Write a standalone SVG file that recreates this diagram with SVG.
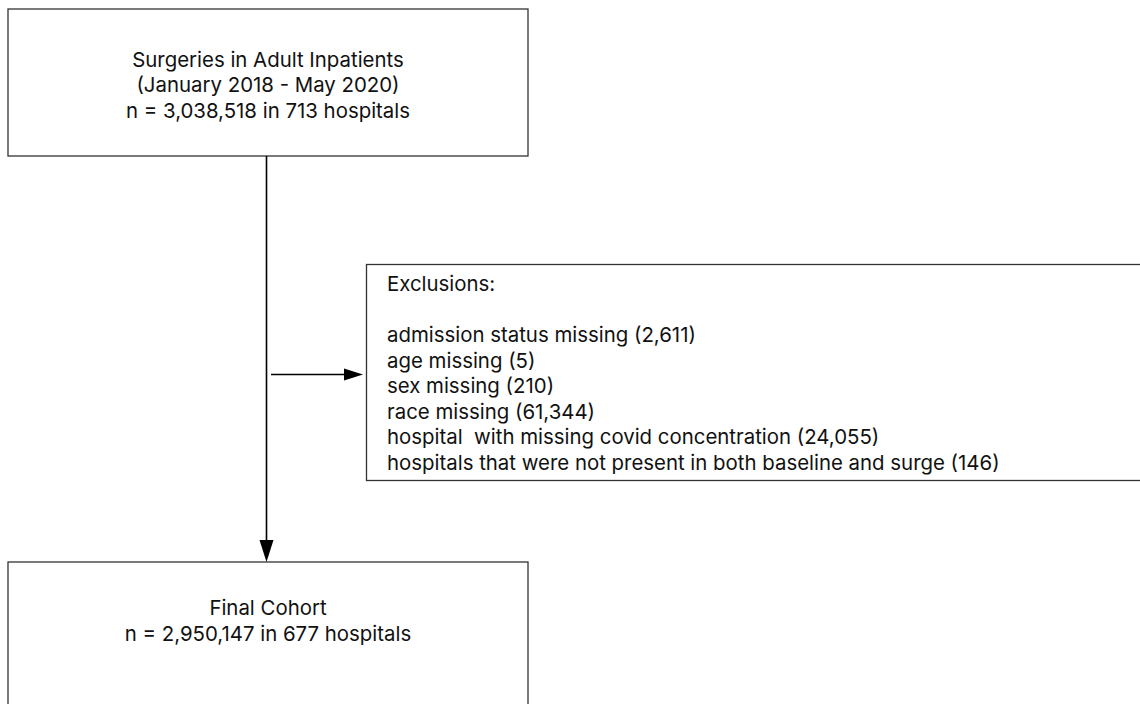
<svg xmlns="http://www.w3.org/2000/svg" width="1140" height="704" viewBox="0 0 1140 704">
<defs>
<style>
.box{fill:#fff;stroke:#333;stroke-width:1.3}
.t{font-family:Inter,"Liberation Sans",Arial,sans-serif;font-size:20.4px;fill:#111}
.c{text-anchor:middle}
.ln{stroke:#000;stroke-width:1.6;fill:none}
.head{fill:#000}
</style>
</defs>
<rect width="1140" height="704" fill="#fff"/>
<g id="node-start">
<rect class="box" x="8" y="9" width="520" height="147"/>
<text class="t c" x="268" y="66.5">Surgeries in Adult Inpatients</text>
<text class="t c" x="268" y="92">(January 2018 - May 2020)</text>
<text class="t c" x="268" y="117.5">n = 3,038,518 in 713 hospitals</text>
</g>
<g id="node-exclusions">
<rect class="box" x="366.5" y="264.5" width="790" height="216"/>
<text class="t" x="387" y="291">Exclusions:</text>
<text class="t" x="387" y="342">admission status missing (2,611)</text>
<text class="t" x="387" y="367.5">age missing (5)</text>
<text class="t" x="387" y="393">sex missing (210)</text>
<text class="t" x="387" y="418.5">race missing (61,344)</text>
<text class="t" x="387" y="444" xml:space="preserve">hospital  with missing covid concentration (24,055)</text>
<text class="t" x="387" y="469.5">hospitals that were not present in both baseline and surge (146)</text>
</g>
<g id="node-final">
<rect class="box" x="8" y="562" width="520" height="160"/>
<text class="t c" x="268" y="615">Final Cohort</text>
<text class="t c" x="268" y="640.5">n = 2,950,147 in 677 hospitals</text>
</g>
<g id="connectors">
<path class="ln" d="M266.5,156 L266.5,545"/>
<path class="head" d="M259.5,540 L266.5,562 L273.5,540 z"/>
<path class="ln" d="M271,374.5 L350,374.5"/>
<path class="head" d="M344,368.5 L363,374.5 L344,380.5 z"/>
</g>
</svg>
